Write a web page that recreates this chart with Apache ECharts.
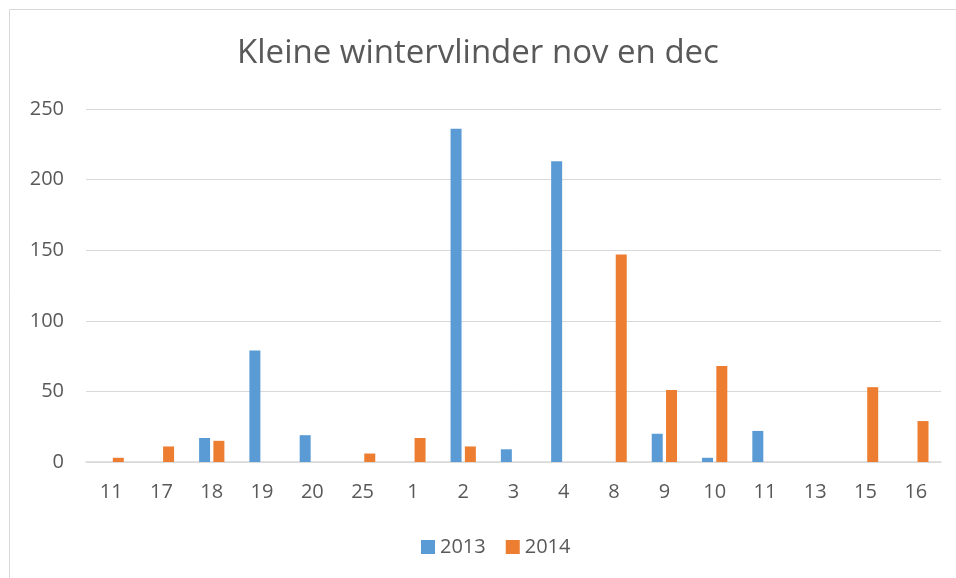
<!DOCTYPE html>
<html>
<head>
<meta charset="utf-8">
<script src="https://cdn.jsdelivr.net/npm/echarts@6/dist/echarts.min.js"></script>
<style>html,body{margin:0;padding:0;background:#fff}#c{width:956px;height:578px}</style>
</head>
<body>
<div id="c"></div>
<script>
const categories = ['11','17','18','19','20','25','1','2','3','4','8','9','10','11','13','15','16'];
const series2013 = [0,0,17,79,19,0,0,236,9,213,0,20,3,22,0,0,0];
const series2014 = [3,11,15,0,0,6,17,11,0,0,147,51,68,0,0,53,29];
const yTicks = [0,50,100,150,200,250];
const seriesNames = ['2013','2014'];
const titleText = 'Kleine wintervlinder nov en dec';

const FONT = '"Open Sans", "Liberation Sans", sans-serif';
const chart = echarts.init(document.getElementById('c'), null, {renderer:'canvas'});
chart.setOption({
  animation:false,
  backgroundColor:'#fff',
  graphic:[{type:'rect',shape:{x:9.5,y:9.5,width:1000,height:600},style:{fill:'none',stroke:'#d9d9d9',lineWidth:1}}],
  title:{text:titleText,left:'center',top:32,textStyle:{fontFamily:FONT,fontSize:33,fontWeight:'normal',color:'#595959'}},
  legend:{data:seriesNames,bottom:16,left:416,itemWidth:14,itemHeight:14,itemGap:20,icon:'rect',
    textStyle:{fontFamily:FONT,fontSize:20,color:'#595959'}},
  grid:{left:86,right:15,top:109,bottom:116,containLabel:false},
  xAxis:{type:'category',data:categories,
    axisLine:{lineStyle:{color:'#d9d9d9',width:1.5}},axisTick:{show:false},
    axisLabel:{fontFamily:FONT,fontSize:20,color:'#595959',margin:20,interval:0}},
  yAxis:{type:'value',min:yTicks[0],max:yTicks[yTicks.length-1],interval:50,
    axisLine:{show:false},axisTick:{show:false},
    splitLine:{lineStyle:{color:'#d9d9d9',width:1}},
    axisLabel:{fontFamily:FONT,fontSize:20,color:'#595959',margin:22}},
  series:[
    {name:seriesNames[0],type:'bar',data:series2013,barWidth:11,barGap:'30%',itemStyle:{color:'#5b9bd5'}},
    {name:seriesNames[1],type:'bar',data:series2014,barWidth:11,barGap:'30%',itemStyle:{color:'#ed7d31'}}
  ]
});
</script>
</body>
</html>
